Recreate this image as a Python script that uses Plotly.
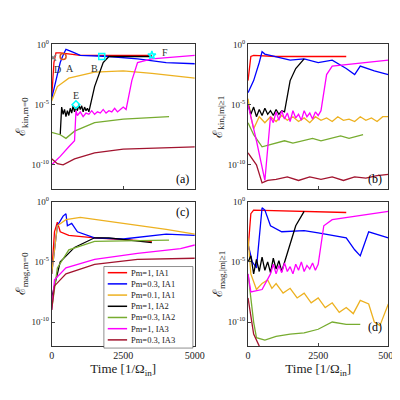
import plotly.graph_objects as go

names = ["Pm=1, IA1", "Pm=0.3, IA1", "Pm=0.1, IA1", "Pm=1, IA2", "Pm=0.3, IA2", "Pm=1, IA3", "Pm=0.3, IA3"]
colors = ["#ff0000", "#0000ff", "#edb120", "#000000", "#77ac30", "#ff00ff", "#a2142f"]

# Panel (a): kinetic m=0, log10 values
a_t = [
 [0, 80, 150, 300, 1000, 2000, 3500],
 [0, 200, 300, 380, 500, 700, 1000, 2000, 3000, 4000, 5000],
 [0, 200, 600, 1500, 2500, 3500, 5000],
 [300, 350, 400, 450, 500, 550, 600, 650, 700, 750, 800, 850, 900, 950, 1000, 1050, 1100, 1150, 1200, 1250, 1300, 1500, 1800, 2000, 3000, 3500],
 [0, 300, 500, 800, 1500, 2500, 4100],
 [0, 300, 600, 800, 850, 900, 1000, 1100, 1200, 1300, 1400, 1500, 1600, 1700, 1800, 1900, 2000, 2100, 2200, 2300, 2400, 2500, 2600, 2800, 3000, 3500, 5000],
 [0, 200, 400, 800, 1500, 2500, 5000],
]
a_v = [
 [-4.5, -1.5, -0.7, -0.7, -0.9, -0.9, -0.9],
 [-4.5, -2.5, -1.5, -1.0, -0.4, -0.6, -0.9, -1.0, -1.2, -1.5, -1.6],
 [-4.7, -3.5, -2.8, -2.3, -2.2, -2.4, -2.8],
 [-7.5, -5.2, -5.8, -5.4, -6.0, -5.5, -5.9, -5.3, -5.7, -5.1, -5.6, -5.2, -5.5, -5.0, -5.4, -5.1, -5.6, -5.2, -5.5, -5.3, -5.6, -3.5, -1.5, -1.0, -1.0, -1.0],
 [-7.3, -7.5, -7.8, -7.2, -6.5, -6.2, -6.0],
 [-10.0, -9.3, -8.5, -8.0, -5.5, -5.9, -5.6, -6.0, -5.7, -5.8, -5.5, -5.8, -5.6, -5.7, -5.4, -5.7, -5.5, -5.6, -5.3, -5.6, -5.4, -5.2, -5.4, -3.0, -1.5, -1.2, -0.9],
 [-9.5, -9.9, -10.0, -9.5, -9.0, -8.7, -8.5],
]

# Panel (b): kinetic |m|>=1
b_t = [
 [0, 100, 200, 1000, 3500],
 [0, 200, 400, 500, 600, 1000, 1500, 2000, 2500, 3000, 3500, 3800, 4000, 4500, 5000],
 [0, 100, 200, 400, 600, 800, 1000, 1200, 1400, 1600, 1800, 2000, 2200, 2400, 2600, 2800, 3000, 3200, 3400, 3600, 3800, 4000, 4200, 4400, 4600, 4800, 5000],
 [0, 100, 200, 300, 400, 500, 600, 700, 800, 900, 1000, 1100, 1200, 1300, 1500, 1700, 2000],
 [0, 200, 500, 1000, 1300, 1600, 2000, 2300, 2600, 3000, 3300, 3600, 4100],
 [0, 300, 600, 800, 900, 1000, 1100, 1200, 1300, 1400, 1500, 1600, 1700, 1800, 1900, 2000, 2100, 2200, 2300, 2400, 2500, 2600, 2800, 3000, 5000],
 [0, 300, 500, 700, 1000, 1400, 1800, 2200, 2600, 3000, 3400, 3800, 4200, 4600, 5000],
]
b_v = [
 [-3.0, -1.0, -0.9, -1.0, -1.0],
 [-4.0, -3.0, -1.5, -0.6, -0.8, -1.0, -1.3, -1.2, -1.5, -1.3, -2.0, -2.5, -1.8, -2.2, -2.5],
 [-4.5, -6.0, -7.0, -6.0, -6.5, -6.0, -6.4, -5.9, -6.3, -6.0, -6.4, -6.1, -6.5, -6.0, -6.3, -6.1, -6.4, -6.0, -6.3, -6.2, -6.4, -6.0, -6.3, -6.1, -6.4, -6.0, -6.0],
 [-5.0, -5.8, -5.2, -6.0, -5.4, -5.9, -5.3, -5.8, -5.5, -5.9, -5.4, -5.8, -5.5, -5.6, -3.0, -2.0, -1.2],
 [-6.5, -7.5, -8.5, -8.2, -8.0, -8.2, -8.0, -7.8, -8.0, -7.8, -7.6, -7.8, -7.5],
 [-5.0, -8.0, -11.3, -6.0, -6.5, -5.6, -6.3, -5.5, -6.2, -5.7, -6.4, -5.5, -6.1, -5.8, -6.3, -5.5, -6.0, -5.7, -6.2, -5.6, -5.9, -5.5, -2.5, -1.8, -1.3],
 [-9.0, -10.0, -11.5, -11.3, -11.2, -11.0, -11.3, -11.0, -11.2, -11.0, -11.3, -11.0, -11.1, -10.9, -10.8],
]

# Panel (c): magnetic m=0
c_t = [
 [0, 100, 200, 300, 600, 1500, 3500],
 [0, 200, 400, 500, 550, 700, 900, 1500, 2500, 4000, 5000],
 [0, 200, 500, 1000, 2500, 4000, 5000],
 [0, 300, 800, 1500, 2000, 3500],
 [0, 200, 600, 1500, 4100],
 [0, 100, 500, 1500, 3000, 4500, 5000],
 [0, 100, 500, 1500, 3000, 5000],
]
c_v = [
 [-6.0, -2.5, -1.7, -2.5, -2.8, -3.0, -3.3],
 [-6.0, -2.0, -1.2, -1.0, -2.0, -1.8, -2.5, -3.0, -3.1, -2.7, -2.8],
 [-6.0, -2.0, -1.5, -1.3, -1.8, -2.3, -2.7],
 [-8.0, -5.0, -3.8, -3.0, -3.0, -3.4],
 [-9.0, -5.5, -4.0, -3.3, -3.2],
 [-9.0, -6.5, -5.5, -4.8, -4.3, -3.9, -3.6],
 [-9.0, -7.0, -6.0, -5.2, -4.8, -4.7],
]

# Panel (d): magnetic |m|>=1
d_t = [
 [0, 100, 200, 3500],
 [0, 150, 300, 450, 500, 600, 800, 1200, 2000, 2500, 3000, 3500, 3800, 4000, 4300, 5000],
 [0, 100, 300, 500, 700, 850, 1000, 1250, 1500, 1750, 2000, 2250, 2500, 2750, 3000, 3250, 3500, 3750, 4000, 4300, 4500, 4700, 5000],
 [0, 100, 200, 300, 400, 500, 600, 700, 800, 900, 1000, 1100, 1200, 1300, 1500, 1700, 2000],
 [0, 200, 300, 600, 1000, 1500, 2000, 2500, 3000, 3500, 4000],
 [0, 100, 500, 800, 900, 1000, 1100, 1200, 1300, 1400, 1500, 1600, 1700, 1800, 1900, 2000, 2100, 2200, 2300, 2400, 2500, 2700, 3000, 5000],
 [0, 200, 400],
]
d_v = [
 [-4.0, -1.0, -0.7, -0.9],
 [-3.5, -5.0, -5.5, -2.0, -0.5, -0.7, -2.0, -2.5, -2.4, -2.6, -2.8, -3.0, -4.0, -4.5, -2.5, -3.0],
 [-3.0, -6.0, -7.3, -6.8, -6.5, -7.2, -6.8, -7.6, -7.2, -8.0, -7.6, -8.4, -8.0, -8.8, -8.4, -9.2, -8.8, -9.3, -8.2, -8.5, -10.0, -10.3, -8.5],
 [-5.0, -4.5, -6.0, -4.8, -5.8, -4.6, -5.7, -5.0, -5.9, -4.7, -5.6, -4.9, -5.8, -5.0, -3.5, -2.0, -0.8],
 [-6.0, -10.0, -11.3, -11.5, -11.2, -11.0, -10.9, -10.6, -10.0, -10.2, -10.2],
 [-6.0, -7.5, -7.3, -6.0, -5.2, -6.0, -5.3, -5.9, -5.1, -5.8, -5.4, -6.0, -5.2, -5.7, -5.0, -5.8, -5.3, -5.6, -5.1, -5.7, -5.2, -2.0, -1.5, -0.8],
 [-8.0, -11.0, -12.0],
]

markers_t = [50, 400, 1750, 850, 3500]
markers_v = [-1.1, -1.0, -1.0, -5.0, -0.9]
markers_sym = ["x-thin", "circle-open", "square-open", "diamond-open", "star-open"]
markers_col = ["#808080", "#d95319", "#00ffff", "#00ffff", "#00ffff"]
label_txt = ["D", "A", "B", "E", "F"]
label_t = [200, 650, 1500, 850, 3950]
label_v = [-2.1, -2.0, -2.0, -4.2, -0.7]

fig = go.Figure()
panels = [(a_t, a_v, "x", "y"), (b_t, b_v, "x2", "y2"), (c_t, c_v, "x3", "y3"), (d_t, d_v, "x4", "y4")]
for pi, (ts, vs, xa, ya) in enumerate(panels):
    for i in range(7):
        fig.add_trace(go.Scatter(x=ts[i], y=[10 ** v for v in vs[i]], mode="lines",
                                 line=dict(color=colors[i], width=1.3), name=names[i],
                                 showlegend=False, xaxis=xa, yaxis=ya))
for k in range(5):
    fig.add_trace(go.Scatter(x=[markers_t[k]], y=[10 ** markers_v[k]], mode="markers",
                             marker=dict(symbol=markers_sym[k], size=6, color=markers_col[k], line=dict(width=1.5, color=markers_col[k])),
                             showlegend=False, xaxis="x", yaxis="y"))
    fig.add_annotation(x=label_t[k], y=label_v[k], xref="x", yref="y", text=label_txt[k], showarrow=False,
                       font=dict(size=10, color="#333333"))

# manual legend in panel (c), paper coordinates
lx0, lx1, ly_top, row = 0.24, 0.47, 0.36, 0.0285
fig.add_shape(type="rect", xref="paper", yref="paper", x0=lx0, x1=lx1, y0=ly_top - 7 * row - 0.008, y1=ly_top,
              line=dict(color="#444", width=0.6), fillcolor="white", layer="above")
for i in range(7):
    yy = ly_top - (i + 0.55) * row
    fig.add_shape(type="line", xref="paper", yref="paper", x0=lx0 + 0.01, x1=lx0 + 0.06, y0=yy, y1=yy,
                  line=dict(color=colors[i], width=1.5), layer="above")
    fig.add_annotation(x=lx0 + 0.065, y=yy, xref="paper", yref="paper", text=names[i], showarrow=False,
                       xanchor="left", yanchor="middle", font=dict(size=8.5, color="#222"))

font = "Liberation Serif"
dom_x = [[0.105, 0.475], [0.6125, 0.975], [0.105, 0.475], [0.6125, 0.975]]
dom_y = [[0.5575, 0.925], [0.5575, 0.925], [0.1575, 0.525], [0.1575, 0.525]]
ytitles = ["ℰ<sub>kin,m=0</sub>", "ℰ<sub>kin,|m|≥1</sub>", "ℰ<sub>mag,m=0</sub>", "ℰ<sub>mag,|m|≥1</sub>"]
tags = ["(a)", "(b)", "(c)", "(d)"]
tag_y = [0.07, 0.07, 0.93, 0.07]
lay = {}
for i in range(4):
    sx = "" if i == 0 else str(i + 1)
    lay["xaxis" + sx] = dict(domain=dom_x[i], range=[0, 5000], anchor="y" + sx, showline=True, mirror=True,
                             linecolor="#333", ticks="inside", ticklen=3, showgrid=False, zeroline=False,
                             tickvals=[0, 2500, 5000], showticklabels=(i >= 2), tickfont=dict(size=10),
                             title=dict(text="Time [1/Ω<sub>in</sub>]" if i >= 2 else "", font=dict(size=13), standoff=2))
    lay["yaxis" + sx] = dict(domain=dom_y[i], type="log", range=[-12, 0], anchor="x" + sx, showline=True, mirror=True,
                             linecolor="#333", ticks="inside", ticklen=3, showgrid=False, zeroline=False,
                             tickvals=[1, 1e-5, 1e-10], ticktext=["10<sup>0</sup>", "10<sup>-5</sup>", "10<sup>-10</sup>"],
                             tickfont=dict(size=9), title=dict(text=ytitles[i], font=dict(size=13), standoff=2))
    fig.add_annotation(x=dom_x[i][1] - 0.01, y=dom_y[i][0] + tag_y[i] * (dom_y[i][1] - dom_y[i][0]),
                       xref="paper", yref="paper", text=tags[i], showarrow=False, xanchor="right",
                       font=dict(size=12, color="#000"))
fig.update_layout(**lay)
fig.update_layout(width=400, height=400, margin=dict(l=0, r=0, t=0, b=0), plot_bgcolor="white",
                  paper_bgcolor="white", font=dict(family=font, color="#222"), showlegend=False)
fig.write_html("out.html")
